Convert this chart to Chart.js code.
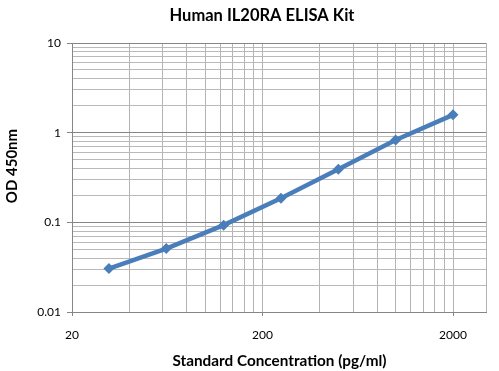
<!DOCTYPE html>
<html>
<head>
<meta charset="utf-8">
<script src="https://cdn.jsdelivr.net/npm/chart.js@4"></script>
<style>
  html, body { margin: 0; padding: 0; background: #fff; }
  #wrap { width: 499px; height: 371px; position: relative; }
</style>
</head>
<body>
<div id="wrap"><canvas id="c" width="499" height="371"></canvas></div>
<script>
// Data
const concentrations = [31.25, 62.5, 125, 250, 500, 1000, 2000];
const odValues = [0.0305, 0.051, 0.093, 0.186, 0.39, 0.83, 1.58];

const xTickValues = [20, 40, 60, 80, 100, 120, 140, 160, 180, 200, 400, 600, 800, 1000, 1200, 1400, 1600, 1800, 2000];
const xLabelValues = [20, 200, 2000];
const xMin = 20, xMax = 2980;

const yTickValues = [0.01,0.02,0.03,0.04,0.05,0.06,0.07,0.08,0.09,0.1,0.2,0.3,0.4,0.5,0.6,0.7,0.8,0.9,1,2,3,4,5,6,7,8,9,10];
const yLabelValues = [0.01, 0.1, 1, 10];
const yMin = 0.01, yMax = 10;

const titleText = 'Human IL20RA ELISA Kit';
const xTitle = 'Standard Concentration (pg/ml)';
const yTitle = 'OD 450nm';

const isMajor = (v, list) => list.some(m => Math.abs(v - m) / m < 1e-6);

// Draws the chart title and the two axis titles as canvas text
const titlesPlugin = {
  id: 'titles',
  afterDraw(chart) {
    const c = chart.ctx;
    c.save();
    c.fillStyle = '#000';
    c.textAlign = 'center';
    c.textBaseline = 'alphabetic';
    c.font = 'bold 16.5px Lato';
    c.fillText(titleText, 262, 21);
    c.font = 'bold 15.3px Lato';
    c.fillText(xTitle, 279.5, 365.5);
    c.translate(17, 166);
    c.rotate(-Math.PI / 2);
    c.font = 'bold 15px Lato';
    c.fillText(yTitle, 0, 0);
    c.restore();
  }
};

const ctx = document.getElementById('c');
new Chart(ctx, {
  type: 'line',
  data: {
    datasets: [{
      data: concentrations.map((x, i) => ({ x: x, y: odValues[i] })),
      borderColor: '#4a7ebb',
      backgroundColor: '#4a7ebb',
      borderWidth: 4.5,
      pointStyle: 'rectRot',
      pointRadius: 5.5,
      pointBorderWidth: 0,
      pointBackgroundColor: '#4a7ebb',
      tension: 0,
      fill: false
    }]
  },
  plugins: [titlesPlugin],
  options: {
    responsive: false,
    animation: false,
    devicePixelRatio: 1,
    layout: { padding: { left: 0, right: 13, top: 43, bottom: 0 } },
    plugins: {
      legend: { display: false },
      tooltip: { enabled: false },
      title: { display: false }
    },
    scales: {
      x: {
        type: 'logarithmic',
        min: xMin,
        max: xMax,
        afterBuildTicks: (scale) => {
          scale.ticks = xTickValues.concat([xMax]).map(v => ({ value: v }));
        },
        afterFit: (scale) => { scale.height = 59; },
        ticks: {
          autoSkip: false,
          maxRotation: 0,
          color: '#000',
          padding: 12,
          font: { family: 'Lato', size: 12 },
          callback: (v) => isMajor(v, xLabelValues) ? String(v) : ''
        },
        grid: {
          color: '#b3b3b3',
          lineWidth: 1,
          tickLength: 4,
          tickColor: (c) => (c.tick && isMajor(c.tick.value, xLabelValues)) ? '#868686' : 'rgba(0,0,0,0)'
        },
        border: { color: '#868686', width: 1 },
        title: { display: false }
      },
      y: {
        type: 'logarithmic',
        min: yMin,
        max: yMax,
        afterBuildTicks: (scale) => {
          scale.ticks = yTickValues.map(v => ({ value: v }));
        },
        afterFit: (scale) => { scale.width = 72; },
        ticks: {
          autoSkip: false,
          color: '#000',
          padding: 6,
          font: { family: 'Lato', size: 12 },
          callback: (v) => isMajor(v, yLabelValues) ? String(v) : ''
        },
        grid: {
          color: (c) => (c.tick && isMajor(c.tick.value, yLabelValues)) ? '#868686' : '#b9b9b9',
          lineWidth: 1,
          tickLength: 5,
          tickColor: (c) => (c.tick && isMajor(c.tick.value, yLabelValues)) ? '#868686' : 'rgba(0,0,0,0)'
        },
        border: { color: '#868686', width: 1 },
        title: { display: false }
      }
    }
  }
});
</script>
</body>
</html>
